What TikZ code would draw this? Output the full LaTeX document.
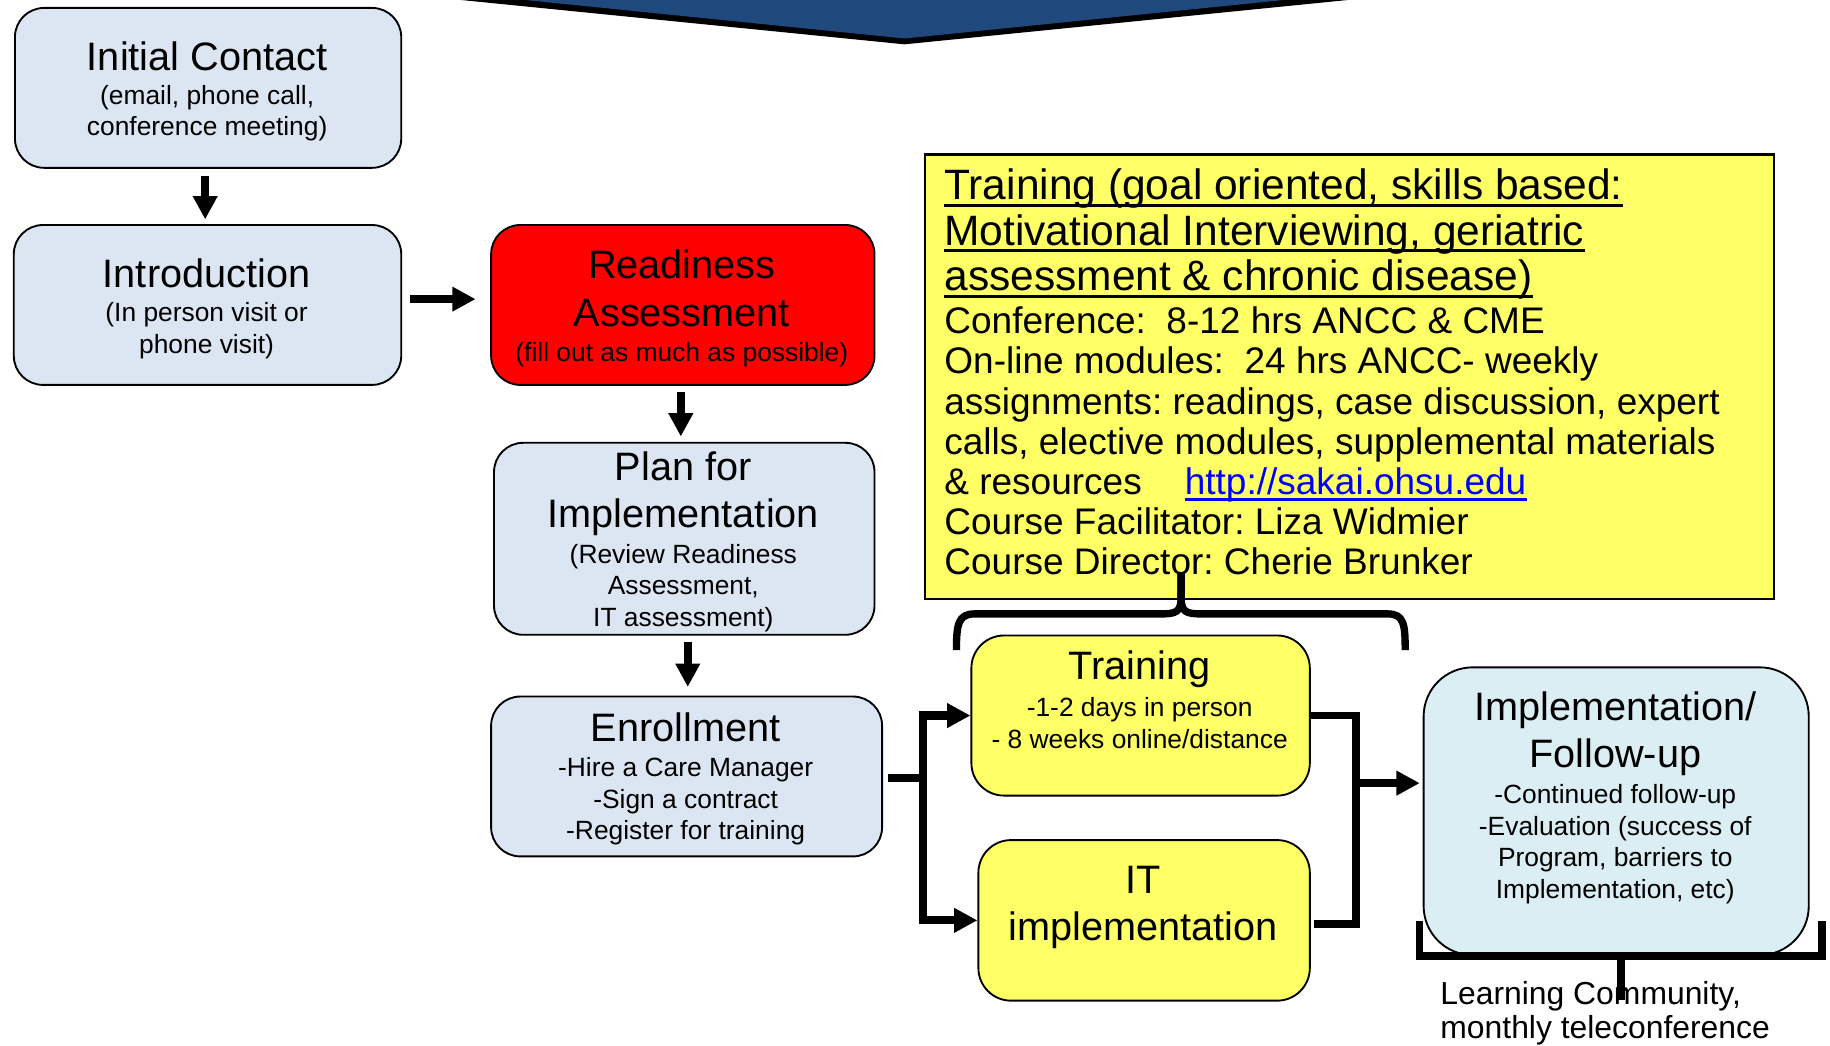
\documentclass[tikz,border=0pt]{standalone}
\usepackage{fontspec}
\setmainfont{Liberation Sans}
\usetikzlibrary{arrows.meta}
\definecolor{boxgray}{RGB}{220,230,242}
\definecolor{implblue}{RGB}{219,238,244}
\definecolor{hiyellow}{RGB}{255,255,102}
\definecolor{chevblue}{RGB}{31,73,125}
\definecolor{linkblue}{RGB}{0,0,255}
\frenchspacing
\begin{document}
\begin{tikzpicture}[x=1pt,y=-1pt,line join=miter,
  box/.style={draw=black, line width=1.6pt, inner sep=0pt, anchor=north west},
  ttl/.style={anchor=base, inner sep=0pt, font=\fontsize{34}{40}\selectfont},
  sub/.style={anchor=base, inner sep=0pt, font=\fontsize{22.6}{27}\selectfont},
  hd/.style={anchor=base west, inner sep=0pt, font=\fontsize{36.4}{40}\selectfont},
  bd/.style={anchor=base west, inner sep=0pt, font=\fontsize{31.7}{34}\selectfont},
  lc/.style={anchor=base west, inner sep=0pt, font=\fontsize{27.3}{30}\selectfont},
  conn/.style={line width=6.5pt},
  arr/.style={line width=7pt, -{Triangle[length=20pt,width=20pt]}},
  brk/.style={line width=6.3pt}]
\useasboundingbox (0,0) rectangle (1568,896);

% top chevron
\fill[black] (395,0) -- (775,38) -- (1155,0) -- cycle;
\fill[chevblue] (450,0) -- (775,33) -- (1100,0) -- cycle;

% boxes
\node[box, fill=boxgray, rounded corners=25pt, minimum width=331pt, minimum height=137pt] (ic) at (12,6) {};
\node[box, fill=boxgray, rounded corners=25pt, minimum width=332pt, minimum height=137pt] (intro) at (11,192) {};
\node[box, fill=red, rounded corners=25pt, minimum width=328.5pt, minimum height=137pt] (ra) at (420,192) {};
\node[box, fill=boxgray, rounded corners=25pt, minimum width=326pt, minimum height=164.5pt] (plan) at (422.5,378.6) {};
\node[box, fill=boxgray, rounded corners=25pt, minimum width=335pt, minimum height=137pt] (en) at (420,596) {};
\node[box, fill=hiyellow, rounded corners=28pt, minimum width=290pt, minimum height=137.2pt] (tr) at (831.5,543.7) {};
\node[box, fill=hiyellow, rounded corners=28pt, minimum width=284pt, minimum height=137.6pt] (it) at (837.5,719) {};
\node[box, fill=implblue, rounded corners=42pt, minimum width=330pt, minimum height=246.5pt] (im) at (1219,571) {};
\node[box, fill=hiyellow, line width=2pt, minimum width=727.5pt, minimum height=381pt] (yb) at (791.5,131.4) {};

% texts
\node[ttl] (ic1) at (177.5,60) {Initial Contact};
\node[sub] (ic2) at (177.5,89.5) {(email, phone call,};
\node[sub] (ic3) at (177.5,116.5) {conference meeting)};

\node[ttl] (in1) at (177,246) {Introduction};
\node[sub] (in2) at (177,275.5) {(In person visit or};
\node[sub] (in3) at (177,302.5) {phone visit)};

\node[ttl] (ra1) at (584.2,238.6) {Readiness};
\node[ttl] (ra2) at (584.2,279.4) {Assessment};
\node[sub] (ra3) at (584.2,310) {(fill out as much as possible)};

\node[ttl] (pl1) at (585.5,411.4) {Plan for};
\node[ttl] (pl2) at (585.5,452.2) {Implementation};
\node[sub] (pl3) at (585.5,482.5) {(Review Readiness};
\node[sub] (pl4) at (585.5,509.5) {Assessment,};
\node[sub] (pl5) at (585.5,536.5) {IT assessment)};

\node[ttl] (en1) at (587.5,635) {Enrollment};
\node[sub] (en2) at (587.5,665.7) {-Hire a Care Manager};
\node[sub] (en3) at (587.5,692.5) {-Sign a contract};
\node[sub] (en4) at (587.5,719.5) {-Register for training};

\node[ttl] (tr1) at (976.5,582.5) {Training};
\node[sub] (tr2) at (976.5,613.7) {-1-2 days in person};
\node[sub] (tr3) at (976.5,641) {- 8 weeks online/distance};

\node[ttl] (it1) at (979.5,765.5) {IT};
\node[ttl] (it2) at (979.5,806) {implementation};

\node[ttl] (im1) at (1384,617) {Implementation/};
\node[ttl] (im2) at (1384,658) {Follow-up};
\node[sub] (im3) at (1384,688.5) {-Continued follow-up};
\node[sub] (im4) at (1384,715.5) {-Evaluation (success of};
\node[sub] (im5) at (1384,742.5) {Program, barriers to};
\node[sub] (im6) at (1384,769.5) {Implementation, etc)};

\node[hd] (h1) at (809,171) {Training (goal oriented, skills based:};
\node[hd] (h2) at (809,210) {Motivational Interviewing, geriatric};
\node[hd] (h3) at (809,249) {assessment \& chronic disease)};
\node[bd] (b1) at (809,286) {Conference:\ \ 8-12 hrs ANCC \& CME};
\node[bd] (b2) at (809,320.4) {On-line modules:\ \ 24 hrs ANCC- weekly};
\node[bd] (b3) at (809,354.8) {assignments: readings, case discussion, expert};
\node[bd] (b4) at (809,389.2) {calls, elective modules, supplemental materials};
\node[bd] (b5) at (809,423.6) {\& resources};
\node[bd, text=linkblue] (lnk) at (1015,423.6) {http://sakai.ohsu.edu};
\node[bd] (b6) at (809,458) {Course Facilitator: Liza Widmier};
\node[bd] (b7) at (809,492.4) {Course Director: Cherie Brunker};
\foreach \n in {h1,h2,h3}
  \draw[line width=2.8pt] ([yshift=-4.8pt]\n.base west) -- ([yshift=-4.8pt]\n.base east);
\draw[linkblue, line width=2pt] ([yshift=-4.5pt]lnk.base west) -- ([yshift=-4.5pt]lnk.base east);

\node[lc] (lc1) at (1234,861) {Learning Community,};
\node[lc] (lc2) at (1234,889.5) {monthly teleconference};

% arrows
\draw[arr, shorten <=6pt, shorten >=4pt] ([xshift=-2.5pt]ic.south) -- ([xshift=-2.5pt]ic.south |- intro.north);
\draw[arr, shorten <=7pt, shorten >=12.5pt] ([yshift=5pt]intro.east) -- ([yshift=5pt]intro.east -| ra.west);
\draw[arr, shorten <=5.4pt, shorten >=4.6pt] ([xshift=-1.7pt]ra.south) -- ([xshift=-1.7pt]ra.south |- plan.north);
\draw[arr, shorten <=5pt, shorten >=7.4pt] ([xshift=3pt]plan.south) -- ([xshift=3pt]plan.south |- en.north);

\coordinate (fk) at (791,666.5);
\draw[conn, shorten <=4pt] (en.east |- fk) -- ([xshift=3pt]fk);
\draw[arr] (fk) |- (tr.west);
\draw[arr] (fk) |- (it.west);

\coordinate (mg) at (1162,671);
\draw[conn] (tr.east) -| (mg);
\draw[conn] ([xshift=2.5pt,yshift=-3pt]it.east) -| (mg);
\draw[arr, shorten >=2.5pt] (mg) -- (mg -| im.west);

% top brace
\coordinate (bl) at (819.5,557);
\coordinate (br) at (1204,557);
\coordinate (bt) at (1012,491);
\draw[brk] (bl) .. controls (819.5,535) and (821,526) .. (835,526) -- (995,526) .. controls (1008,526) and (1012,524) .. (1012,512) -- (bt);
\draw[brk] (br) .. controls (1204,535) and (1203,526) .. (1189,526) -- (1029,526) .. controls (1016,526) and (1012,524) .. (1012,512) -- (bt);

% bottom bracket
\coordinate (cl) at (1216,789);
\coordinate (cr) at (1561,789);
\coordinate (cs) at (1389,857);
\draw[brk] (cl) -- (cl |- 0,819) -- (cr |- 0,819) -- (cr);
\draw[brk] (cs |- 0,819) -- (cs);
\end{tikzpicture}
\end{document}
